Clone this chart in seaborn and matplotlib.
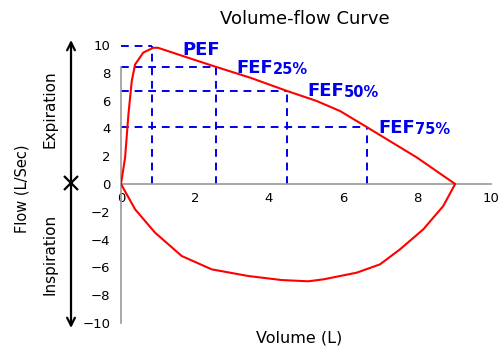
import numpy as np
import pandas as pd
import matplotlib.pyplot as plt
import seaborn as sns

# =========================
# Data
# =========================
exp_volume = [0.0, 0.11, 0.2, 0.29, 0.38, 0.6, 0.87, 1.0, 1.68, 2.54, 3.49, 4.48,
              5.29, 5.92, 6.64, 8.0, 9.03]
exp_flow = [0.0, 1.9, 5.0, 7.4, 8.6, 9.45, 9.8, 9.8, 9.2, 8.45, 7.65, 6.7,
            5.97, 5.25, 4.1, 1.9, 0.0]
insp_volume = [0.0, 0.38, 0.92, 1.64, 2.45, 3.44, 4.34, 5.06, 5.47, 6.37, 7.0,
               7.54, 8.17, 8.71, 9.03]
insp_flow = [0.0, -1.82, -3.5, -5.18, -6.14, -6.62, -6.91, -7.0, -6.86, -6.38,
             -5.78, -4.7, -3.26, -1.58, 0.0]

marker_names = ["PEF", "FEF", "FEF", "FEF"]
marker_subs = ["", "25%", "50%", "75%"]
marker_volume = [0.85, 2.57, 4.49, 6.65]
marker_flow = [9.9, 8.4, 6.7, 4.1]

x_ticks = [0, 2, 4, 6, 8, 10]
y_ticks = [-10, -8, -6, -4, -2, 0, 2, 4, 6, 8, 10]

curve = pd.DataFrame({
    "volume": exp_volume + insp_volume,
    "flow": exp_flow + insp_flow,
    "part": ["exp"] * len(exp_volume) + ["insp"] * len(insp_volume),
})

sns.set_style("white")
plt.rcParams["font.family"] = ["DejaVu Sans"]
plt.rcParams["text.color"] = "black"

fig = plt.figure(figsize=(4.98, 3.53), dpi=100)
ax = fig.add_axes([0.243, 0.085, 0.743, 0.7875])

# dashed guide lines
for v, f in zip(marker_volume, marker_flow):
    ax.plot([0, v], [f, f], color="#0000ee", ls=(0, (4, 3)), lw=1.4, zorder=2)
    ax.plot([v, v], [0, f], color="#0000ee", ls=(0, (4, 3)), lw=1.4, zorder=2)

sns.lineplot(data=curve, x="volume", y="flow", units="part", estimator=None,
             sort=False, color="red", lw=1.5, ax=ax, zorder=3)

# labels on the curve
offsets = [(0.8, -0.6), (0.55, -0.4), (0.54, -0.37), (0.3, -0.43)]
for name, sub, v, f, (dx, dy) in zip(marker_names, marker_subs, marker_volume,
                                     marker_flow, offsets):
    t = ax.text(v + dx, f + dy, name, color="#0000ee", fontsize=13,
                fontweight="bold", va="baseline", ha="left", zorder=4)
    if sub:
        ax.annotate(sub, xy=(1, 0), xycoords=t, color="#0000ee", fontsize=10.5,
                    fontweight="bold", va="bottom", ha="left", zorder=4)

ax.set_xlim(0, 10)
ax.set_ylim(-10, 10)
ax.set_xticks(x_ticks)
ax.set_yticks(y_ticks)
ax.tick_params(axis="both", colors="#999999", labelcolor="black", labelsize=9.5,
               length=4, width=1)
ax.tick_params(axis="x", pad=2)

for s in ["top", "right"]:
    ax.spines[s].set_visible(False)
ax.spines["bottom"].set_position(("data", 0))
ax.spines["bottom"].set_color("#999999")
ax.spines["left"].set_color("#999999")
ax.spines["left"].set_bounds(-10, 8.4)
ax.spines["bottom"].set_linewidth(1.2)
ax.spines["left"].set_linewidth(1.2)

lbl0 = ax.get_xticklabels()[0]
lbl0.set_bbox(dict(facecolor="white", edgecolor="none", pad=3))

ax.set_xlabel("")
ax.set_ylabel("")
fig.text(0.600, 0.022, "Volume (L)", ha="center", va="bottom", fontsize=11.5, color="black")
fig.text(0.044, 0.465, "Flow (L/Sec)", ha="center", va="center", rotation=90,
         fontsize=10.5, color="black")
fig.text(0.101, 0.69, "Expiration", ha="center", va="center", rotation=90,
         fontsize=11, color="black")
fig.text(0.101, 0.28, "Inspiration", ha="center", va="center", rotation=90,
         fontsize=11, color="black")
fig.text(0.612, 0.945, "Volume-flow Curve", ha="center", va="center",
         fontsize=13, color="black")

# double arrow with cross
fig.add_artist(plt.Line2D([0.1426], [1 - 183 / 353], marker="x", ms=10, mew=1.6,
                          color="black", transform=fig.transFigure))
ax.annotate("", xy=(0.1426, 1 - 40 / 353), xytext=(0.1426, 1 - 328 / 353),
            xycoords="figure fraction", textcoords="figure fraction",
            arrowprops=dict(arrowstyle="<->", color="black", lw=1.6,
                            mutation_scale=14, shrinkA=0, shrinkB=0))

plt.savefig("out.png", dpi=100)
plt.close()
